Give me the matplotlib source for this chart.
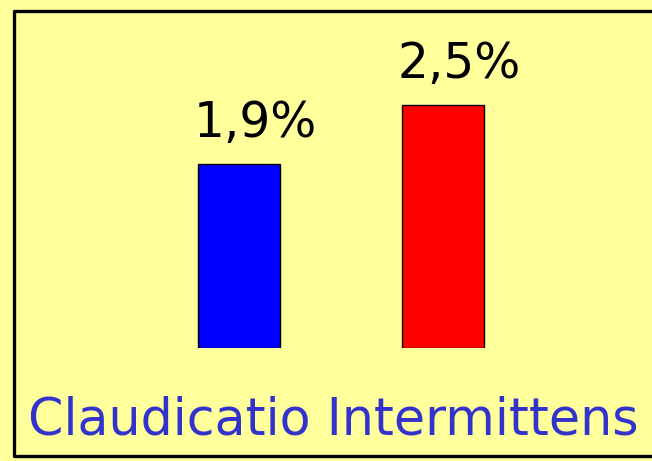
import matplotlib.pyplot as plt
from matplotlib.lines import Line2D

W, H = 652, 461

categories = ["A", "B"]
values = [1.9, 2.5]
labels = ["1,9%", "2,5%"]
colors = ["#0000FF", "#FF0000"]
title = "Claudicatio Intermittens"

bg = "#FFFF9C"

fig = plt.figure(figsize=(W / 100, H / 100), dpi=100, facecolor=bg)


def fx(px):
    return px / W


def fy(py):
    return 1 - py / H


# frame (left, top, bottom; right edge runs off the picture)
frame = Line2D([fx(W + 10), fx(14), fx(14), fx(W + 10)],
               [fy(11), fy(11), fy(456), fy(456)],
               transform=fig.transFigure, color="black", lw=2.4)
fig.add_artist(frame)

# bars: centres at 239 / 443 px, baseline 348 px, ~97 px per unit
ax = fig.add_axes([fx(137), fy(348), fx(408), (348 - 57) / H])
ax.set_facecolor("none")
ax.bar(range(len(values)), values, width=82 / 204, color=colors,
       edgecolor="black", linewidth=1.0)
ax.set_xlim(-0.5, 1.5)
ax.set_ylim(0, 3)
ax.axis("off")

for i, (v, lab) in enumerate(zip(values, labels)):
    ax.text(i + 0.08, v + 0.28, lab, ha="center", va="baseline",
            fontsize=35, color="black", clip_on=False)

fig.text(fx(333), fy(434), title, ha="center", va="baseline",
         fontsize=36.5, color="#3333CC")

fig.savefig("out.png", dpi=100, facecolor=bg)
